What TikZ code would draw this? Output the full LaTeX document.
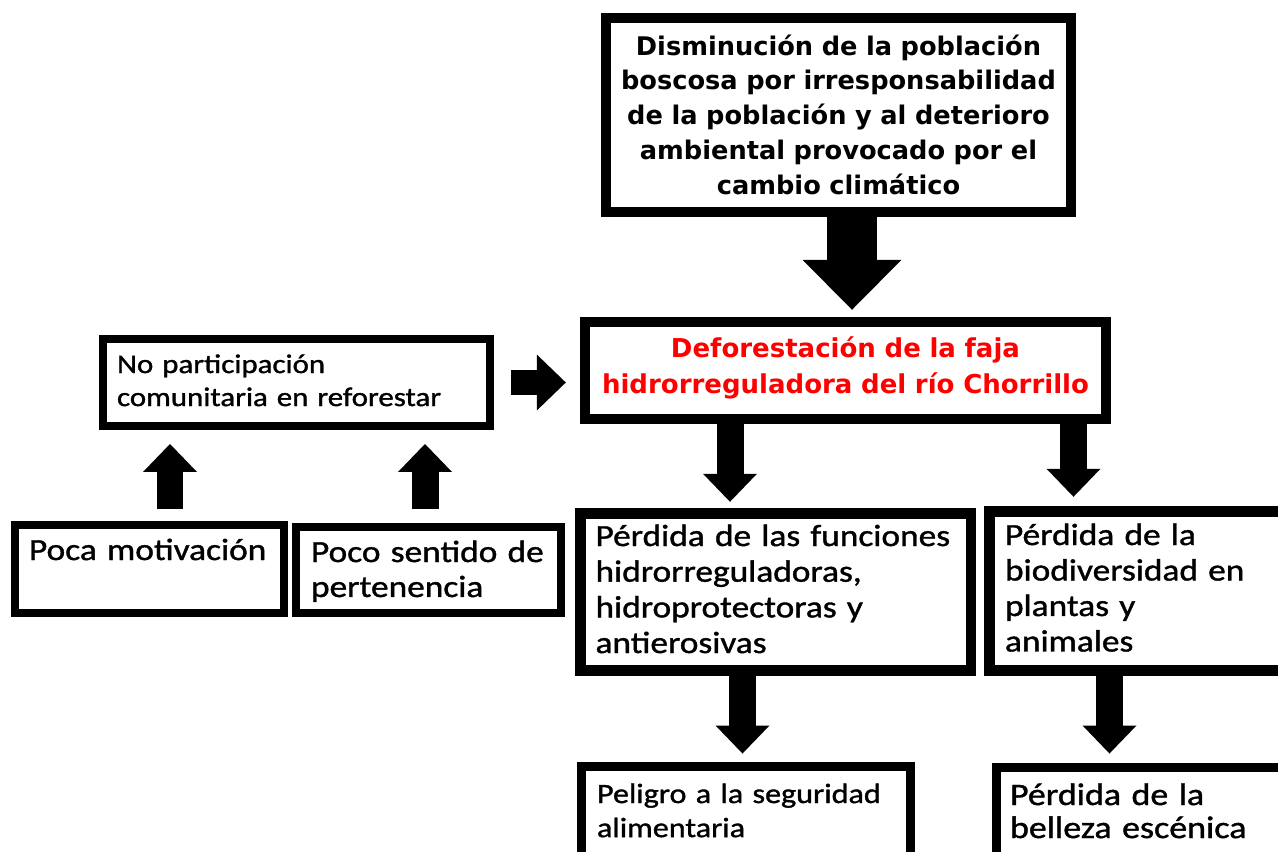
\documentclass[tikz,border=0pt]{standalone}
\usepackage{fontspec}
\usetikzlibrary{arrows.meta}
\newfontfamily\verdana{DejaVu Sans}
\newfontfamily\calibri[FakeStretch=1.15, FakeBold=1.2]{Carlito}
\hyphenpenalty=10000
\exhyphenpenalty=10000
\tikzset{
  caja/.style={draw=black, fill=white, inner ysep=0pt, line width=0.16cm, align=left},
  flecha/.style={line width=0.54cm, -{Triangle[width=1.08cm, length=0.56cm, line width=0pt]}},
  flechagrande/.style={line width=1cm, -{Triangle[width=1.98cm, length=1cm, line width=0pt]}}
}
\begin{document}
\begin{tikzpicture}[x=0.02cm, y=-0.02cm, line join=miter]
  \useasboundingbox (0,0) rectangle (1278,852);
  \fill[white] (0,0) rectangle (1278,852);
  \clip (0,0) rectangle (1278,852);
  % causa principal
  \node[caja, line width=0.2cm, align=center, inner xsep=0.2cm, text width=8.9cm,
        text height=0.74cm, text depth=3.14cm,
        font=\verdana\bfseries\fontsize{14.6pt}{19.9pt}\selectfont] (top) at (838.5,115)
    {Disminución~de~la~población\\ boscosa~por~irresponsabilidad\\ de~la~población~y~al~deterioro\\ ambiental~provocado~por~el\\ cambio climático};
  % problema central
  \node[caja, line width=0.21cm, align=center, inner xsep=0.2cm, text width=10.02cm,
        text height=0.7cm, text depth=1.24cm, text=red,
        font=\verdana\bfseries\fontsize{14.8pt}{20.5pt}\selectfont] (cen) at (845.5,370.5)
    {Deforestación de la faja\\ hidrorreguladora~del~río~Chorrillo};
  % causas secundarias
  \node[caja, inner xsep=0.28cm, text width=7.18cm, text height=0.68cm, text depth=1.06cm,
        font=\calibri\fontsize{15.3pt}{18.8pt}\selectfont] (nop) at (296.5,382.5)
    {No participación\\ comunitaria~en~reforestar};
  \node[caja, inner xsep=0.28cm, text width=4.82cm, text height=0.7cm, text depth=1.06cm,
        font=\calibri\fontsize{17.5pt}{20pt}\selectfont] (poca) at (149.5,569)
    {Poca~motivación};
  \node[caja, inner xsep=0.3cm, text width=4.7cm, text height=0.7cm, text depth=1.02cm,
        font=\calibri\fontsize{17.5pt}{19.9pt}\selectfont] (poco) at (428.5,570)
    {Poco~sentido~de\\ pertenencia};
  % efectos
  \node[caja, line width=0.21cm, inner xsep=0.3cm, text width=7.21cm, text height=0.65cm, text depth=2.49cm,
        font=\calibri\fontsize{17.5pt}{20.3pt}\selectfont] (fun) at (775.75,592)
    {Pérdida~de~las~funciones\\ hidrorreguladoras,\\ hidroprotectoras y\\ antierosivas};
  \node[caja, line width=0.21cm, inner xsep=0.31cm, text width=5.59cm, text height=0.67cm, text depth=2.51cm,
        font=\calibri\fontsize{17.5pt}{20.2pt}\selectfont] (bio) at (1144.75,591)
    {Pérdida de la\\ biodiversidad~en\\ plantas y\\ animales};
  \node[caja, line width=0.18cm, inner xsep=0.31cm, text width=5.96cm, text height=0.73cm, text depth=1.54cm,
        font=\calibri\fontsize{15.9pt}{19.4pt}\selectfont] (pel) at (746,823.25)
    {Peligro~a~la~seguridad\\ alimentaria};
  \node[caja, line width=0.18cm, inner xsep=0.27cm, text width=5.53cm, text height=0.75cm, text depth=1.5cm,
        font=\calibri\fontsize{17.8pt}{18.8pt}\selectfont] (bel) at (1148.25,823.75)
    {Pérdida de la\\ belleza~escénica};
  % posiciones de las flechas
  \coordinate (xa) at (852,0);
  \coordinate (xb) at (730,0);
  \coordinate (xc) at (1073.5,0);
  \coordinate (xd) at (742.5,0);
  \coordinate (xe) at (1109.5,0);
  \coordinate (xf) at (170,0);
  \coordinate (xg) at (425,0);
  \draw[flechagrande, shorten >=0.14cm] (top.south -| xa) -- (cen.north -| xa);
  \draw[flecha, shorten >=0.13cm] (cen.south -| xb) -- (fun.north -| xb);
  \draw[flecha, shorten >=0.19cm] (cen.south -| xc) -- (bio.north -| xc);
  \draw[flecha, shorten >=0.17cm] (fun.south -| xd) -- (pel.north -| xd);
  \draw[flecha, shorten >=0.19cm] (bio.south -| xe) -- (bel.north -| xe);
  \draw[flecha, shorten <=0.24cm, shorten >=0.28cm] (poca.north -| xf) -- (nop.south -| xf);
  \draw[flecha, shorten <=0.28cm, shorten >=0.28cm] (poco.north -| xg) -- (nop.south -| xg);
  \draw[flecha, line width=0.5cm, -{Triangle[width=1.12cm, length=0.58cm, line width=0pt]},
        shorten <=0.34cm, shorten >=0.28cm] (nop.east) -- (nop.east -| cen.west);
\end{tikzpicture}
\end{document}
